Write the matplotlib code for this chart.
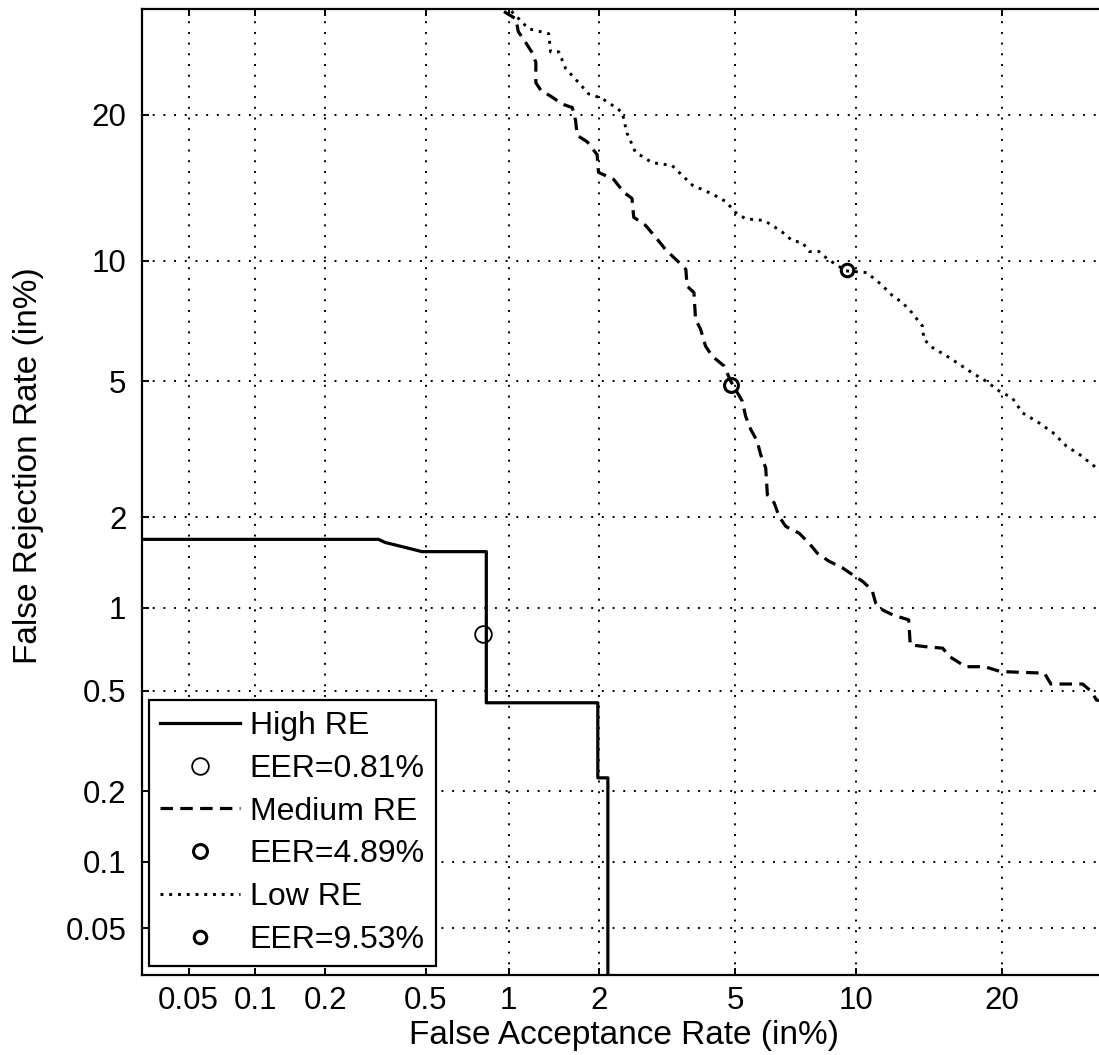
from statistics import NormalDist

import matplotlib
matplotlib.use("Agg")
import matplotlib.pyplot as plt
import numpy as np
from matplotlib.ticker import FixedLocator, NullLocator

plt.rcParams["font.family"] = ["Liberation Sans", "DejaVu Sans"]

# DET curves: false acceptance / false rejection rates, both in percent
high_far = [0.02, 0.328, 0.349, 0.382, 0.417, 0.456, 0.483, 0.834, 0.834, 1.98, 1.98, 2.13, 2.13]
high_frr = [1.7, 1.7, 1.66, 1.63, 1.6, 1.57, 1.55, 1.55, 0.45, 0.45, 0.227, 0.227, 0.01]

medium_far = [0.85, 0.923, 1.06, 1.08, 1.14, 1.2, 1.24, 1.24, 1.29, 1.39, 1.52, 1.64, 1.68, 1.7,
              1.83, 1.97, 1.99, 2.22, 2.39, 2.53, 2.56, 2.78, 3.01, 3.19, 3.49, 3.65, 3.68, 3.85,
              3.89, 4.02, 4.15, 4.33, 4.67, 4.87, 5.23, 5.34, 5.51, 5.73, 5.85, 6.03, 6.09, 6.34,
              6.53, 6.79, 7.33, 7.76, 8.13, 8.67, 9.32, 9.83, 10.4, 10.9, 11.1, 11.5, 12.1, 13.1,
              13.2, 14.2, 15.4, 15.9, 17.1, 18.6, 19.9, 23.8, 24.4, 27.5, 28.4, 28.9, 30.3]
medium_frr = [31.1, 30.1, 29, 27.7, 26.7, 25.7, 24.7, 22.8, 22.1, 21.6, 20.9, 20.6, 19.5, 18.3,
              17.8, 16.8, 15.5, 15, 14.1, 13.7, 12.5, 12, 11.2, 10.6, 9.91, 9.56, 8.73, 8.42,
              7.25, 6.84, 6.2, 5.84, 5.5, 5.01, 4.42, 4.01, 3.68, 3.4, 3.11, 2.84, 2.35, 2.22,
              2.01, 1.87, 1.78, 1.65, 1.53, 1.44, 1.37, 1.3, 1.23, 1.15, 1.04, 0.984, 0.945, 0.908,
              0.739, 0.728, 0.719, 0.67, 0.615, 0.615, 0.59, 0.582, 0.53, 0.53, 0.496, 0.461, 0.453]

low_far = [0.923, 1.03, 1.17, 1.37, 1.39, 1.48, 1.56, 1.72, 1.85, 2.04, 2.2, 2.36, 2.44, 2.59,
           2.91, 3.33, 3.49, 3.81, 4.33, 4.72, 5.02, 5.34, 5.97, 6.27, 6.65, 7.05, 7.47, 7.76,
           8.2, 8.59, 9.49, 10.6, 11.4, 12.1, 12.7, 13.3, 14, 14.1, 14.7, 15.9, 17.4, 18.7,
           19.8, 20.9, 21.8, 23.3, 24.6, 25.9, 27.2, 28.5, 30.3]
low_frr = [31.1, 29.7, 28, 27.5, 25.7, 25.7, 24.1, 22.8, 21.8, 21.4, 20.8, 20.2, 18.5, 17,
           16.2, 16, 15.5, 14.6, 14, 13.5, 12.8, 12.4, 12.3, 12, 11.6, 11.1, 11, 10.5,
           10.5, 10.1, 9.48, 9.39, 8.82, 8.27, 7.97, 7.53, 6.97, 6.45, 6.14, 5.78, 5.33, 5.01,
           4.71, 4.51, 4.1, 3.84, 3.6, 3.29, 3.11, 2.9, 2.65]

# equal error rates (percent)
eer_high = 0.81
eer_medium = 4.89
eer_low = 9.53

tick_values = [0.05, 0.1, 0.2, 0.5, 1, 2, 5, 10, 20]
tick_labels = ["0.05", "0.1", "0.2", "0.5", "1", "2", "5", "10", "20"]
axis_limits = (0.03, 30)

_nd = NormalDist()


def to_deviate(p):
    p = np.clip(np.asarray(p, dtype=float) / 100.0, 1e-9, 1 - 1e-9)
    return np.vectorize(_nd.inv_cdf, otypes=[float])(p)


def from_deviate(z):
    z = np.asarray(z, dtype=float)
    return np.vectorize(_nd.cdf, otypes=[float])(z) * 100.0


fig = plt.figure(figsize=(10.99, 10.55), dpi=100)
ax = fig.add_axes([0.1289, 0.0758, 0.8784, 0.9154])
ax.set_xscale("function", functions=(to_deviate, from_deviate))
ax.set_yscale("function", functions=(to_deviate, from_deviate))

grid_style = dict(color="black", linewidth=1.4, linestyle=(0, (1, 4.5)))
ax.grid(True, **grid_style)
ax.set_axisbelow(True)

ax.plot(high_far, high_frr, color="black", linewidth=2.3, linestyle="-",
        label="High RE", zorder=3)
ax.plot([eer_high], [eer_high], linestyle="none", marker="o", markersize=12,
        markerfacecolor="none", markeredgecolor="black", markeredgewidth=1.3,
        label=f"EER={eer_high:.2f}%", zorder=4)
ax.plot(medium_far, medium_frr, color="black", linewidth=2.3, linestyle=(0, (3.9, 2.3)),
        label="Medium RE", zorder=3)
ax.plot([eer_medium], [eer_medium], linestyle="none", marker="o", markersize=10,
        markerfacecolor="none", markeredgecolor="black", markeredgewidth=2.2,
        label=f"EER={eer_medium:.2f}%", zorder=4)
ax.plot(low_far, low_frr, color="black", linewidth=2.1, linestyle=(0, (1, 2)),
        label="Low RE", zorder=3)
ax.plot([eer_low], [eer_low], linestyle="none", marker="o", markersize=9,
        markerfacecolor="none", markeredgecolor="black", markeredgewidth=2.2,
        label=f"EER={eer_low:.2f}%", zorder=4)

ax.set_xlim(*axis_limits)
ax.set_ylim(*axis_limits)
for axis in (ax.xaxis, ax.yaxis):
    axis.set_major_locator(FixedLocator(tick_values))
    axis.set_minor_locator(NullLocator())
ax.set_xticklabels(tick_labels)
ax.set_yticklabels(tick_labels)

ax.tick_params(axis="both", which="major", direction="in", length=5, width=1.4,
               top=True, right=True, labelsize=22.5, colors="black")
ax.tick_params(axis="x", pad=8)
ax.tick_params(axis="y", pad=11)
for spine in ax.spines.values():
    spine.set_linewidth(1.6)
    spine.set_color("black")

ax.set_xlabel("False Acceptance Rate (in%)", fontsize=24, labelpad=3)
ax.set_ylabel("False Rejection Rate (in%)", fontsize=24)
ax.yaxis.set_label_coords(-0.101, 0.527)

leg = ax.legend(loc="lower left", bbox_to_anchor=(0.0076, 0.0093), borderaxespad=0,
                fontsize=23, numpoints=1, handlelength=2.5, handletextpad=0.3,
                labelspacing=0.4, borderpad=0.35, fancybox=False, framealpha=1,
                edgecolor="black")
leg.get_frame().set_linewidth(1.6)

fig.savefig("out.png", dpi=100)
